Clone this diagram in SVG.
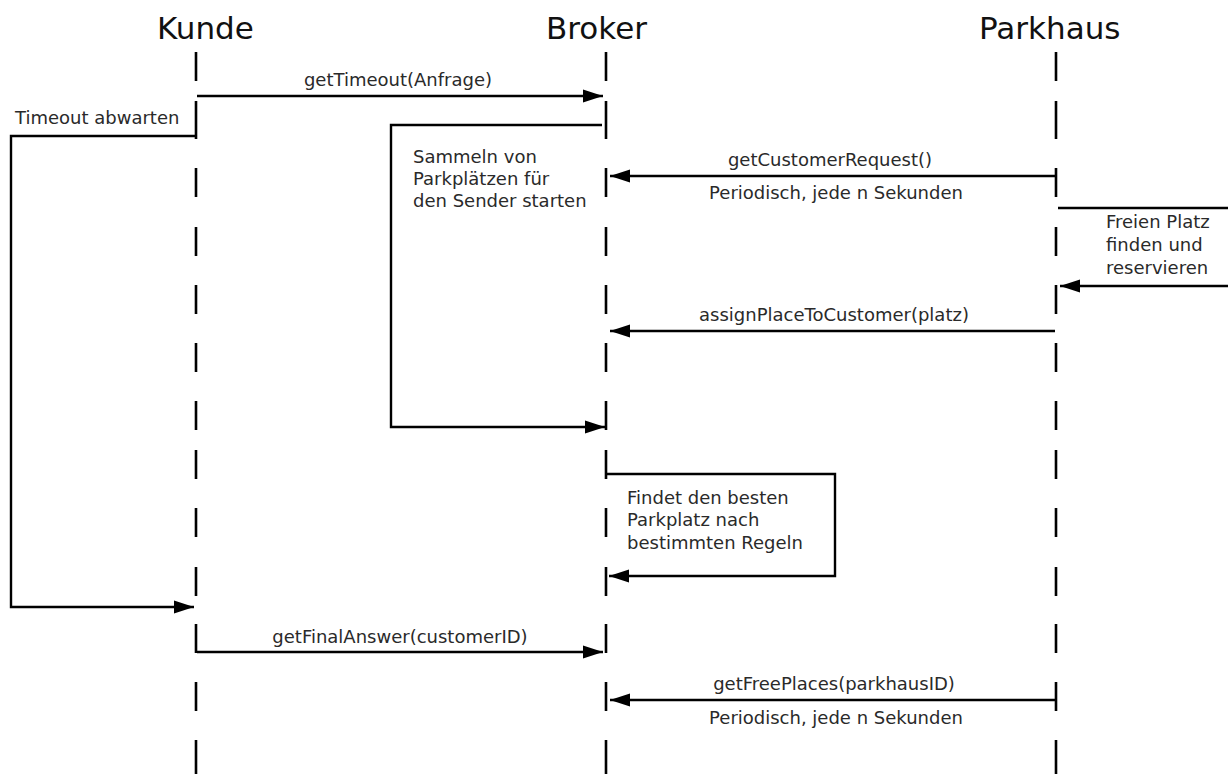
<svg xmlns="http://www.w3.org/2000/svg" width="1228" height="774" viewBox="0 0 1228 774">
  <style>
    .title { font-family: "DejaVu Sans", Verdana, sans-serif; font-size: 31px; fill: #111; }
    .lbl { font-family: "DejaVu Sans", Verdana, sans-serif; font-size: 18px; fill: #2a2a2a; }
    .mid { text-anchor: middle; }
    .life { fill: none; stroke: #000; stroke-width: 2.6; }
    .msg { fill: none; stroke: #000; stroke-width: 2.4; marker-end: url(#head); }
  </style>
  <defs>
    <marker id="head" markerUnits="userSpaceOnUse" markerWidth="22" markerHeight="14" refX="20" refY="7" orient="auto">
      <path d="M0,0.5 L20,7 L0,13.5 z" fill="#000"/>
    </marker>
  </defs>
  <rect width="1228" height="774" fill="#fff"/>

  <!-- participants with their dashed lifelines -->
  <g id="kunde">
    <text class="title" x="157" y="39">Kunde</text>
    <path class="life" d="M196 52V81M196 101V139M196 168V197M196 227V256M196 285V314M196 343V372M196 401V430M196 450V479M196 508V537M196 567V596M196 624V653M196 682V711M196 740V774"/>
  </g>
  <g id="broker">
    <text class="title" x="546" y="39">Broker</text>
    <path class="life" d="M606 52V81M606 101V139M606 168V197M606 227V256M606 285V314M606 343V372M606 401V430M606 450V479M606 508V537M606 567V596M606 624V653M606 682V711M606 740V774"/>
  </g>
  <g id="parkhaus">
    <text class="title" x="979" y="39">Parkhaus</text>
    <path class="life" d="M1056 52V81M1056 101V139M1056 168V197M1056 227V256M1056 285V314M1056 343V372M1056 401V430M1056 450V479M1056 508V537M1056 567V596M1056 624V653M1056 682V711M1056 740V774"/>
  </g>

  <!-- messages -->
  <g id="connectors">
    <path class="msg" d="M197 96H603"/>
    <path class="msg" d="M196 136H11V607H194"/>
    <path class="msg" d="M602 125H391V427H605"/>
    <path class="msg" d="M1055 176H610"/>
    <path class="msg" d="M1058 208H1232V286H1060"/>
    <path class="msg" d="M1055 331H610"/>
    <path class="msg" d="M605 474H835V576H609"/>
    <path class="msg" d="M197 652H603"/>
    <path class="msg" d="M1055 700H610"/>
  </g>

  <!-- message labels -->
  <g id="labels">
    <text class="lbl mid" x="398" y="86">getTimeout(Anfrage)</text>
    <text class="lbl" x="15" y="124">Timeout abwarten</text>
    <text class="lbl" x="413" y="163">Sammeln von</text>
    <text class="lbl" x="413" y="185">Parkplätzen für</text>
    <text class="lbl" x="413" y="207">den Sender starten</text>
    <text class="lbl mid" x="830" y="166">getCustomerRequest()</text>
    <text class="lbl mid" x="836" y="199">Periodisch, jede n Sekunden</text>
    <text class="lbl" x="1106" y="228">Freien Platz</text>
    <text class="lbl" x="1106" y="251">finden und</text>
    <text class="lbl" x="1106" y="274">reservieren</text>
    <text class="lbl mid" x="834" y="321">assignPlaceToCustomer(platz)</text>
    <text class="lbl" x="627" y="504">Findet den besten</text>
    <text class="lbl" x="627" y="526">Parkplatz nach</text>
    <text class="lbl" x="627" y="549">bestimmten Regeln</text>
    <text class="lbl mid" x="400" y="643">getFinalAnswer(customerID)</text>
    <text class="lbl mid" x="834" y="690">getFreePlaces(parkhausID)</text>
    <text class="lbl mid" x="836" y="724">Periodisch, jede n Sekunden</text>
  </g>
</svg>
